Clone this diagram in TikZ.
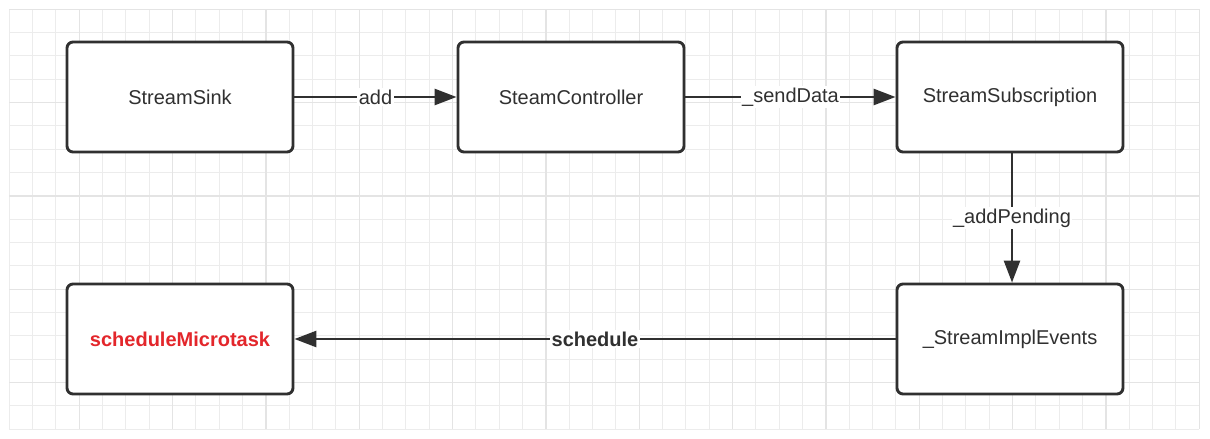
\documentclass[tikz,border=0pt]{standalone}
\usepackage{fontspec}
\setmainfont{Liberation Sans}
\usetikzlibrary{arrows.meta}
\definecolor{ink}{HTML}{303030}
\definecolor{gridminor}{HTML}{ECECEC}
\definecolor{gridmajor}{HTML}{E4E4E4}
\definecolor{alert}{HTML}{E3262B}
\tikzset{
  box/.style={draw=ink, line width=2.9pt, rounded corners=6pt, fill=white,
    minimum width=226pt, minimum height=110pt, inner sep=0pt,
    text=ink, font=\fontsize{20}{24}\selectfont},
  arr/.style={draw=ink, line width=2.7pt, -{Triangle[length=22pt,width=16pt]}},
  lbl/.style={fill=white, inner sep=1.5pt, text=ink, font=\fontsize{20}{24}\selectfont},
  gminor/.style={draw=gridminor, line width=1pt},
  gmajor/.style={draw=gridmajor, line width=1.1pt}
}
\begin{document}
\begin{tikzpicture}[x=1pt,y=-1pt]
\useasboundingbox (0,0) rectangle (1210,439);
\fill[white] (0,0) rectangle (1210,439);
% grid
\foreach \i in {0,...,51} \draw[gminor] (9.3+23.333*\i,9.3) -- (9.3+23.333*\i,429.3);
\foreach \j in {0,...,18} \draw[gminor] (9.3,9.3+23.333*\j) -- (1199.3,9.3+23.333*\j);
\foreach \i in {3,7,...,51} \draw[gmajor] (9.3+23.333*\i,9.3) -- (9.3+23.333*\i,429.3);
\foreach \j in {0,4,...,16} \draw[gmajor] (9.3,9.3+23.333*\j) -- (1199.3,9.3+23.333*\j);
% nodes
\node[box] (sink) at (180,97) {StreamSink};
\node[box] (ctrl) at (571,97) {SteamController};
\node[box] (sub) at (1010,97) {StreamSubscription};
\node[box] (impl) at (1010,339) {\_StreamImplEvents};
\node[box, text=alert, font=\fontsize{20}{24}\selectfont\bfseries] (micro) at (180,339) {scheduleMicrotask};
% connectors
\draw[arr] (sink.east) -- (ctrl.west) node[lbl, midway] {add};
\draw[arr] (ctrl.east) -- (sub.west) node[lbl, midway] {\_sendData};
\draw[arr] ([xshift=2pt]sub.south) -- ([xshift=2pt]impl.north) node[lbl, midway] {\_addPending};
\draw[arr] (impl.west) -- (micro.east) node[lbl, midway, font=\fontsize{20}{24}\selectfont\bfseries] {schedule};
\end{tikzpicture}
\end{document}
